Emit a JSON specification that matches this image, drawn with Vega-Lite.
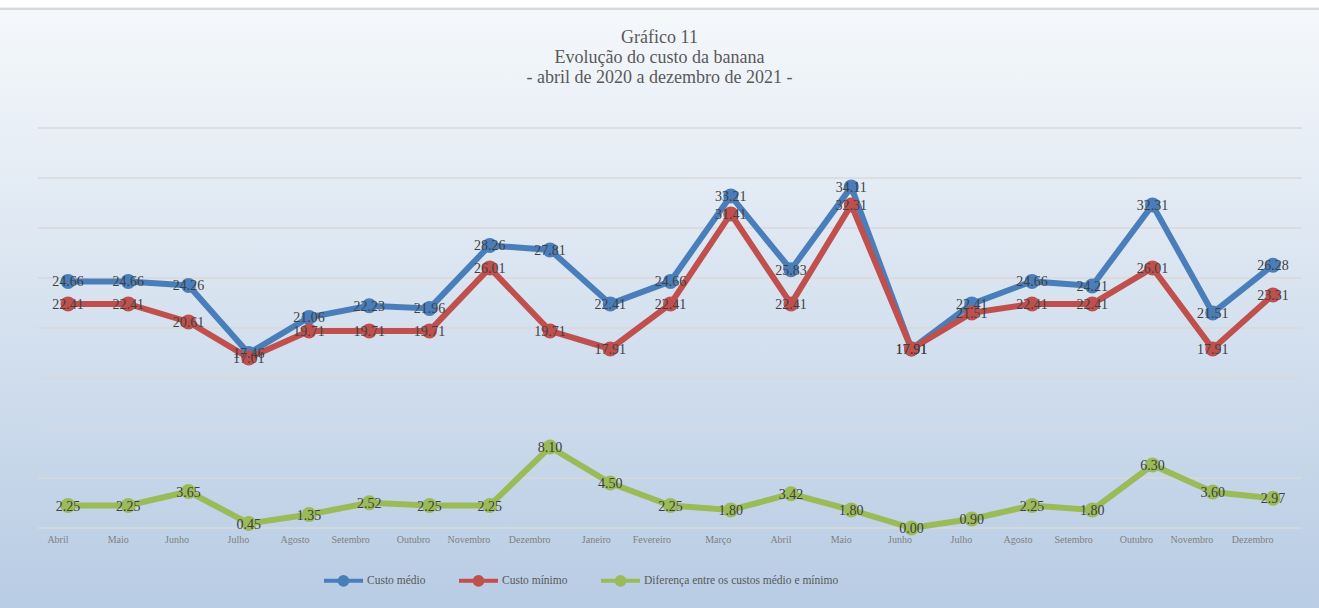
{
  "$schema": "https://vega.github.io/schema/vega-lite/v6.json",
  "width": 1319,
  "height": 608,
  "autosize": {"type": "none"},
  "padding": 0,
  "background": "#ffffff",
  "title": {
    "text": ["Gráfico 11", "Evolução do custo da banana", "- abril de 2020 a dezembro de 2021 -"],
    "anchor": "middle",
    "font": "Liberation Serif",
    "fontSize": 18,
    "fontWeight": "normal",
    "color": "#595959",
    "lineHeight": 20,
    "baseline": "top",
    "offset": -87
  },
  "config": {
    "view": {"stroke": null},
    "font": "Liberation Serif"
  },
  "datasets": {
    "grade": [{"g": 0}, {"g": 5}, {"g": 10}, {"g": 15}, {"g": 20}, {"g": 25}, {"g": 30}, {"g": 35}, {"g": 40}],
    "custos": [
      {"mes": "Abril 2020", "serie": "Custo médio", "valor": 24.66},
      {"mes": "Maio 2020", "serie": "Custo médio", "valor": 24.66},
      {"mes": "Junho 2020", "serie": "Custo médio", "valor": 24.26},
      {"mes": "Julho 2020", "serie": "Custo médio", "valor": 17.46},
      {"mes": "Agosto 2020", "serie": "Custo médio", "valor": 21.06},
      {"mes": "Setembro 2020", "serie": "Custo médio", "valor": 22.23},
      {"mes": "Outubro 2020", "serie": "Custo médio", "valor": 21.96},
      {"mes": "Novembro 2020", "serie": "Custo médio", "valor": 28.26},
      {"mes": "Dezembro 2020", "serie": "Custo médio", "valor": 27.81},
      {"mes": "Janeiro 2021", "serie": "Custo médio", "valor": 22.41},
      {"mes": "Fevereiro 2021", "serie": "Custo médio", "valor": 24.66},
      {"mes": "Março 2021", "serie": "Custo médio", "valor": 33.21},
      {"mes": "Abril 2021", "serie": "Custo médio", "valor": 25.83},
      {"mes": "Maio 2021", "serie": "Custo médio", "valor": 34.11},
      {"mes": "Junho 2021", "serie": "Custo médio", "valor": 17.91},
      {"mes": "Julho 2021", "serie": "Custo médio", "valor": 22.41},
      {"mes": "Agosto 2021", "serie": "Custo médio", "valor": 24.66},
      {"mes": "Setembro 2021", "serie": "Custo médio", "valor": 24.21},
      {"mes": "Outubro 2021", "serie": "Custo médio", "valor": 32.31},
      {"mes": "Novembro 2021", "serie": "Custo médio", "valor": 21.51},
      {"mes": "Dezembro 2021", "serie": "Custo médio", "valor": 26.28},
      {"mes": "Abril 2020", "serie": "Custo mínimo", "valor": 22.41},
      {"mes": "Maio 2020", "serie": "Custo mínimo", "valor": 22.41},
      {"mes": "Junho 2020", "serie": "Custo mínimo", "valor": 20.61},
      {"mes": "Julho 2020", "serie": "Custo mínimo", "valor": 17.01},
      {"mes": "Agosto 2020", "serie": "Custo mínimo", "valor": 19.71},
      {"mes": "Setembro 2020", "serie": "Custo mínimo", "valor": 19.71},
      {"mes": "Outubro 2020", "serie": "Custo mínimo", "valor": 19.71},
      {"mes": "Novembro 2020", "serie": "Custo mínimo", "valor": 26.01},
      {"mes": "Dezembro 2020", "serie": "Custo mínimo", "valor": 19.71},
      {"mes": "Janeiro 2021", "serie": "Custo mínimo", "valor": 17.91},
      {"mes": "Fevereiro 2021", "serie": "Custo mínimo", "valor": 22.41},
      {"mes": "Março 2021", "serie": "Custo mínimo", "valor": 31.41},
      {"mes": "Abril 2021", "serie": "Custo mínimo", "valor": 22.41},
      {"mes": "Maio 2021", "serie": "Custo mínimo", "valor": 32.31},
      {"mes": "Junho 2021", "serie": "Custo mínimo", "valor": 17.91},
      {"mes": "Julho 2021", "serie": "Custo mínimo", "valor": 21.51},
      {"mes": "Agosto 2021", "serie": "Custo mínimo", "valor": 22.41},
      {"mes": "Setembro 2021", "serie": "Custo mínimo", "valor": 22.41},
      {"mes": "Outubro 2021", "serie": "Custo mínimo", "valor": 26.01},
      {"mes": "Novembro 2021", "serie": "Custo mínimo", "valor": 17.91},
      {"mes": "Dezembro 2021", "serie": "Custo mínimo", "valor": 23.31},
      {"mes": "Abril 2020", "serie": "Diferença entre os custos médio e mínimo", "valor": 2.25},
      {"mes": "Maio 2020", "serie": "Diferença entre os custos médio e mínimo", "valor": 2.25},
      {"mes": "Junho 2020", "serie": "Diferença entre os custos médio e mínimo", "valor": 3.65},
      {"mes": "Julho 2020", "serie": "Diferença entre os custos médio e mínimo", "valor": 0.45},
      {"mes": "Agosto 2020", "serie": "Diferença entre os custos médio e mínimo", "valor": 1.35},
      {"mes": "Setembro 2020", "serie": "Diferença entre os custos médio e mínimo", "valor": 2.52},
      {"mes": "Outubro 2020", "serie": "Diferença entre os custos médio e mínimo", "valor": 2.25},
      {"mes": "Novembro 2020", "serie": "Diferença entre os custos médio e mínimo", "valor": 2.25},
      {"mes": "Dezembro 2020", "serie": "Diferença entre os custos médio e mínimo", "valor": 8.10},
      {"mes": "Janeiro 2021", "serie": "Diferença entre os custos médio e mínimo", "valor": 4.50},
      {"mes": "Fevereiro 2021", "serie": "Diferença entre os custos médio e mínimo", "valor": 2.25},
      {"mes": "Março 2021", "serie": "Diferença entre os custos médio e mínimo", "valor": 1.80},
      {"mes": "Abril 2021", "serie": "Diferença entre os custos médio e mínimo", "valor": 3.42},
      {"mes": "Maio 2021", "serie": "Diferença entre os custos médio e mínimo", "valor": 1.80},
      {"mes": "Junho 2021", "serie": "Diferença entre os custos médio e mínimo", "valor": 0.00},
      {"mes": "Julho 2021", "serie": "Diferença entre os custos médio e mínimo", "valor": 0.90},
      {"mes": "Agosto 2021", "serie": "Diferença entre os custos médio e mínimo", "valor": 2.25},
      {"mes": "Setembro 2021", "serie": "Diferença entre os custos médio e mínimo", "valor": 1.80},
      {"mes": "Outubro 2021", "serie": "Diferença entre os custos médio e mínimo", "valor": 6.30},
      {"mes": "Novembro 2021", "serie": "Diferença entre os custos médio e mínimo", "valor": 3.60},
      {"mes": "Dezembro 2021", "serie": "Diferença entre os custos médio e mínimo", "valor": 2.97}
    ]
  },
  "resolve": {"scale": {"x": "shared", "y": "shared"}},
  "layer": [
    {
      "data": {"values": [{}]},
      "mark": {
        "type": "rect",
        "fill": {
          "gradient": "linear",
          "x1": 0, "y1": 0, "x2": 0, "y2": 1,
          "stops": [
            {"offset": 0, "color": "#ffffff"},
            {"offset": 0.012, "color": "#ffffff"},
            {"offset": 0.013, "color": "#d9d9d9"},
            {"offset": 0.016, "color": "#d9d9d9"},
            {"offset": 0.017, "color": "#f5f8fb"},
            {"offset": 1, "color": "#b8cce4"}
          ]
        }
      },
      "encoding": {}
    },
    {
      "data": {"name": "grade"},
      "mark": {"type": "rule", "color": "#d9d9d9", "strokeWidth": 1.5, "xOffset": -30, "x2Offset": 29},
      "encoding": {
        "x": {"datum": "Abril 2020", "type": "ordinal"},
        "x2": {"datum": "Dezembro 2021"},
        "y": {"field": "g", "type": "quantitative", "axis": null}
      }
    },
    {
      "data": {"name": "custos"},
      "encoding": {
        "x": {
          "field": "mes",
          "type": "ordinal",
          "scale": {
            "type": "point",
            "domain": ["Abril 2020", "Maio 2020", "Junho 2020", "Julho 2020", "Agosto 2020", "Setembro 2020", "Outubro 2020", "Novembro 2020", "Dezembro 2020", "Janeiro 2021", "Fevereiro 2021", "Março 2021", "Abril 2021", "Maio 2021", "Junho 2021", "Julho 2021", "Agosto 2021", "Setembro 2021", "Outubro 2021", "Novembro 2021", "Dezembro 2021"],
            "range": [68, 1273],
            "padding": 0
          },
          "title": null,
          "axis": {
            "labelExpr": "split(datum.label, ' ')[0]",
            "labelAngle": 0,
            "labelFont": "Liberation Serif",
            "labelFontSize": 10,
            "labelColor": "#7f7f7f",
            "labelPadding": 11,
            "offset": -80,
            "ticks": false,
            "domain": false,
            "grid": false,
            "zindex": 2
          }
        },
        "y": {
          "field": "valor",
          "type": "quantitative",
          "scale": {"domain": [-8, 52.8], "nice": false, "zero": false},
          "axis": null
        },
        "color": {
          "field": "serie",
          "type": "nominal",
          "sort": null,
          "scale": {
            "domain": ["Custo médio", "Custo mínimo", "Diferença entre os custos médio e mínimo"],
            "range": ["#4a7ebb", "#c0504d", "#9bbb59"]
          }
        }
      },
      "layer": [
        {
          "mark": {"type": "line", "strokeWidth": 6},
          "encoding": {
            "color": {
              "field": "serie",
              "type": "nominal",
              "sort": null,
              "legend": {
                "title": null,
                "orient": "none",
                "legendX": 322,
                "legendY": 559,
                "direction": "horizontal",
                "symbolType": "M-1,0H1M-0.2,0A0.2,0.2,0,1,1,0.2,0A0.2,0.2,0,1,1,-0.2,0Z",
                "symbolSize": 1521,
                "symbolStrokeWidth": 4,
                "labelFont": "Liberation Serif",
                "labelFontSize": 11.5,
                "labelColor": "#595959",
                "labelOffset": 2,
                "columnPadding": 25,
                "labelLimit": 400
              }
            }
          }
        },
        {
          "mark": {"type": "point", "filled": true, "size": 225, "opacity": 1}
        },
        {
          "mark": {"type": "text", "font": "Liberation Serif", "fontSize": 14, "dy": 1},
          "encoding": {
            "text": {"field": "valor", "type": "quantitative", "format": ".2f"},
            "color": {"value": "#404040"}
          }
        }
      ]
    }
  ]
}
